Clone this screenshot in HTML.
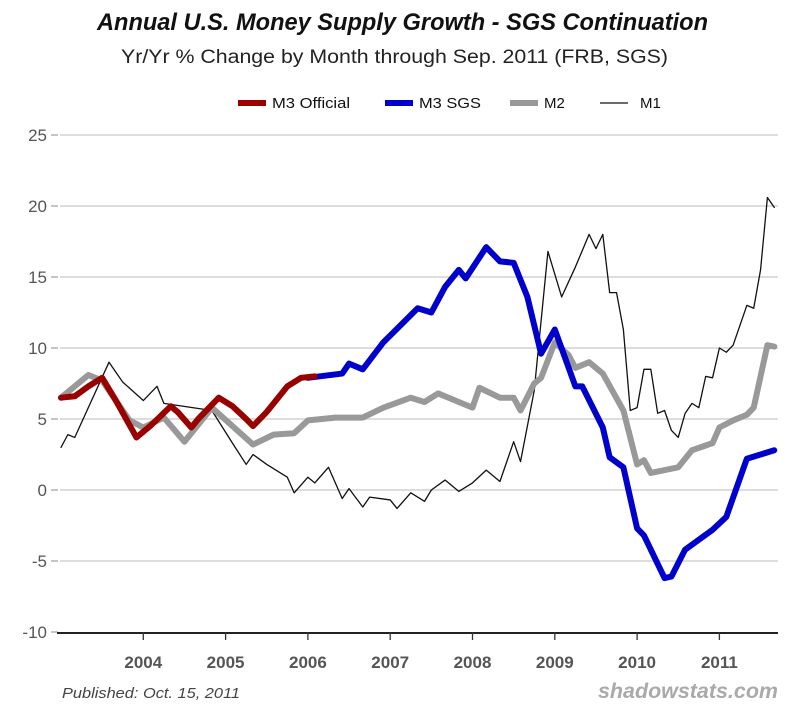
<!DOCTYPE html>
<html><head><meta charset="utf-8"><style>
body{margin:0;background:#fff;width:800px;height:712px;overflow:hidden;font-family:"Liberation Sans",sans-serif}
</style></head><body>
<svg id="chart" width="800" height="712" xmlns="http://www.w3.org/2000/svg">
<text x="97" y="30" textLength="611" lengthAdjust="spacingAndGlyphs" font-size="24" font-weight="bold" font-style="italic" fill="#111">Annual U.S. Money Supply Growth - SGS Continuation</text>
<text x="121" y="63" textLength="547" lengthAdjust="spacingAndGlyphs" font-size="19" fill="#222">Yr/Yr % Change by Month through Sep. 2011  (FRB, SGS)</text>
<g font-size="15" fill="#111">
<g><line x1="238" y1="103" x2="266" y2="103" stroke="#990000" stroke-width="6"/><text x="272" y="108" textLength="78" lengthAdjust="spacingAndGlyphs">M3 Official</text></g>
<g><line x1="385" y1="103" x2="413" y2="103" stroke="#0000cc" stroke-width="6"/><text x="419" y="108" textLength="62" lengthAdjust="spacingAndGlyphs">M3 SGS</text></g>
<g><line x1="510" y1="103" x2="538" y2="103" stroke="#999" stroke-width="6"/><text x="544" y="108">M2</text></g>
<g><line x1="600" y1="103" x2="628" y2="103" stroke="#111" stroke-width="1.3"/><text x="640" y="108">M1</text></g>
</g>
<g id="grid"></g><g id="series"></g><g id="axes"></g>
<text x="62" y="698" textLength="178" lengthAdjust="spacingAndGlyphs" font-size="15" font-style="italic" fill="#444">Published: Oct. 15, 2011</text>
<text x="598" y="698" textLength="180" lengthAdjust="spacingAndGlyphs" font-size="21" font-weight="bold" font-style="italic" fill="#aaa">shadowstats.com</text>
</svg>
<script>
const yTicks=[-10,-5,0,5,10,15,20,25];
const xYears=[2004,2005,2006,2007,2008,2009,2010,2011];
const m3oMonths=[0,2,4,6,8,11,13,16,17,19,20,23,25,27,28,30,33,35,37];
const m3oVals=[6.5,6.6,7.3,7.9,6.3,3.7,4.5,5.9,5.5,4.4,5.0,6.5,5.9,5.0,4.5,5.5,7.3,7.9,8.0];
const m3sMonths=[36,41,42,44,47,52,54,56,58,59,62,64,66,68,70,72,75,76,79,80,82,84,85,88,89,91,95,97,100,102,104];
const m3sVals=[7.9,8.2,8.9,8.5,10.4,12.8,12.5,14.3,15.5,14.9,17.1,16.1,16.0,13.6,9.6,11.3,7.3,7.3,4.4,2.3,1.6,-2.7,-3.2,-6.2,-6.1,-4.2,-2.8,-1.9,2.2,2.5,2.8];
const m2Months=[0,4,6,10,12,15,18,22,28,31,34,36,40,44,47,51,53,55,58,60,61,64,66,67,69,70,72,74,75,77,79,82,84,85,86,90,92,95,96,98,100,101,103,104];
const m2Vals=[6.5,8.1,7.7,4.9,4.4,5.1,3.4,5.8,3.2,3.9,4.0,4.9,5.1,5.1,5.8,6.5,6.2,6.8,6.2,5.8,7.2,6.5,6.5,5.6,7.5,7.9,10.4,9.5,8.6,9.0,8.2,5.6,1.8,2.1,1.2,1.6,2.8,3.3,4.4,4.9,5.3,5.8,10.2,10.1];
const m1Months=[0,1,2,7,9,12,14,15,22,25,27,28,30,33,34,36,37,39,41,42,44,45,48,49,51,53,54,56,58,60,62,64,66,67,69,71,73,75,77,78,79,80,81,82,83,84,85,86,87,88,89,90,91,92,93,94,95,96,97,98,100,101,102,103,104];
const m1Vals=[3.0,3.9,3.7,9.0,7.6,6.3,7.3,6.1,5.6,3.3,1.8,2.5,1.8,0.9,-0.2,0.9,0.5,1.6,-0.6,0.1,-1.2,-0.5,-0.7,-1.3,-0.2,-0.8,0,0.7,-0.1,0.5,1.4,0.6,3.4,2.0,7.0,16.8,13.6,15.7,18.0,17.0,18.0,13.9,13.9,11.3,5.6,5.8,8.5,8.5,5.4,5.6,4.2,3.7,5.4,6.1,5.8,8.0,7.9,10.0,9.7,10.2,13.0,12.8,15.5,20.6,19.9];
const NS="http://www.w3.org/2000/svg";
const X0=61,PX_YEAR=82.3,Y0=490,PX_UNIT=14.2;
function xm(m){return X0+m*PX_YEAR/12;}
function xy(yr){return X0+(yr-2003)*PX_YEAR;}
function yv(v){return Y0-v*PX_UNIT;}
function mk(tag,attrs,parent){const e=document.createElementNS(NS,tag);for(const k in attrs)e.setAttribute(k,attrs[k]);parent.appendChild(e);return e;}
const grid=document.getElementById('grid'),axes=document.getElementById('axes'),series=document.getElementById('series');
yTicks.forEach(t=>{
  const g=mk('g',{},grid);
  
  
  if(t!==-10) mk('line',{x1:60,x2:778,y1:yv(t),y2:yv(t),stroke:'#ddd','stroke-width':2},g);
  mk('line',{x1:51,x2:58,y1:yv(t),y2:yv(t),stroke:'#888','stroke-width':1},g);
  const tx=mk('text',{x:47,y:yv(t)+6,'text-anchor':'end','font-size':17,fill:'#555'},g);
  
  
  tx.textContent=t;
});
const ax=mk('line',{x1:57,x2:778,y1:yv(-10)+1,y2:yv(-10)+1,stroke:'#222','stroke-width':2},axes);


xYears.forEach(yr=>{
  mk('line',{x1:xy(yr),x2:xy(yr),y1:yv(-10),y2:yv(-10)+8,stroke:'#333','stroke-width':1.3},axes);
  const tx=mk('text',{x:xy(yr),y:668,'text-anchor':'middle','font-size':17,'font-weight':'bold',fill:'#555'},axes);
  
  
  tx.textContent=yr;
});
function line(ms,vs,color,w,name){
  const p=mk('polyline',{points:ms.map((m,i)=>xm(m)+','+yv(vs[i])).join(' '),fill:'none',stroke:color,'stroke-width':w,'stroke-linejoin':'round','stroke-linecap':'round'},series);
  
  
}
line(m1Months,m1Vals,'#111',1.3,'m1-line');
line(m2Months,m2Vals,'#999',6,'m2-line');
line(m3sMonths,m3sVals,'#0000cc',6,'m3-sgs-line');
line(m3oMonths,m3oVals,'#990000',6,'m3-official-line');
</script>
</body></html>
